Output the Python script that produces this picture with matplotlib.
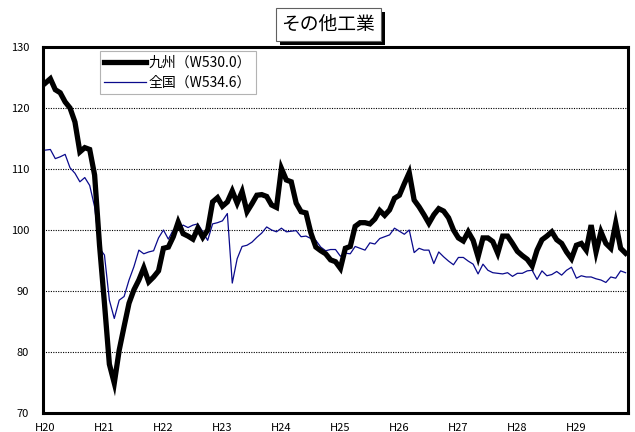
import matplotlib
matplotlib.use("Agg")
import matplotlib.pyplot as plt
from matplotlib.patches import Rectangle

plt.rcParams['font.family'] = ['Noto Sans CJK JP', 'DejaVu Sans']

# Monthly index, Jan 2008 (H20) - Nov 2017
year_labels = ["H20", "H21", "H22", "H23", "H24", "H25", "H26", "H27", "H28", "H29"]

kyushu = [
    124.1, 124.8, 123.0, 122.5, 121.0, 120.0, 117.7, 112.8, 113.5, 113.2,
    109.0, 97.5, 88.0, 78.0, 74.9, 80.3, 84.2, 88.0, 90.2, 91.8,
    93.8, 91.5, 92.3, 93.3, 97.0, 97.2, 98.9, 101.3, 99.4, 99.0,
    98.5, 100.3, 98.8, 100.0, 104.6, 105.3, 103.9, 104.6, 106.4, 104.4,
    106.3, 103.0, 104.3, 105.7, 105.8, 105.5, 104.1, 103.7, 110.1, 108.2,
    107.9, 104.4, 103.0, 102.8, 99.5, 97.2, 96.6, 96.1, 95.1, 94.8,
    93.7, 97.0, 97.3, 100.6, 101.2, 101.2, 101.0, 101.8, 103.2, 102.4,
    103.3, 105.2, 105.7, 107.6, 109.4, 104.9, 103.8, 102.5, 101.1, 102.5,
    103.5, 103.1, 102.0, 100.0, 98.7, 98.2, 99.7, 98.3, 95.6, 98.7,
    98.7, 98.1, 96.2, 99.0, 99.0, 97.8, 96.5, 95.8, 95.2, 94.1,
    96.7, 98.4, 99.0, 99.7, 98.4, 97.8, 96.4, 95.3, 97.5, 97.8,
    96.7, 100.8, 96.4, 99.7, 97.8, 97.0, 101.1, 97.0, 96.2,
]

zenkoku = [
    113.1, 113.2, 111.7, 112.0, 112.4, 110.2, 109.3, 107.9, 108.6, 107.3,
    103.8, 97.0, 95.9, 88.5, 85.5, 88.5, 89.1, 91.8, 94.0, 96.7,
    96.1, 96.4, 96.6, 98.7, 100.0, 98.5, 100.0, 100.1, 100.8, 100.4,
    100.8, 101.0, 99.7, 98.3, 101.0, 101.2, 101.5, 102.7, 91.3, 95.3,
    97.3, 97.5, 98.0, 98.8, 99.5, 100.5, 100.0, 99.7, 100.3, 99.7,
    99.8, 99.9, 98.9, 99.0, 98.6, 98.3, 97.2, 96.6, 96.8, 96.8,
    95.7, 96.2, 96.1, 97.3, 97.0, 96.7, 97.9, 97.7, 98.6, 98.9,
    99.2, 100.3, 99.8, 99.3, 100.0, 96.3, 97.0, 96.7, 96.7, 94.5,
    96.4, 95.6, 94.9, 94.3, 95.5, 95.5, 94.9, 94.4, 92.8, 94.4,
    93.4, 93.0, 92.9, 92.8, 93.0, 92.4, 92.9, 92.9, 93.3, 93.4,
    91.9, 93.3, 92.5, 92.7, 93.2, 92.6, 93.4, 93.9, 92.1, 92.5,
    92.3, 92.3, 92.0, 91.8, 91.4, 92.3, 92.1, 93.3, 93.0,
]

series_labels = ["九州（W530.0）", "全国（W534.6）"]
title = "その他工業"
y_ticks = [70, 80, 90, 100, 110, 120, 130]

fig = plt.figure(figsize=(6.35, 4.32), dpi=100)
ax = fig.add_axes([43 / 635, (432 - 413) / 432, 585 / 635, 366 / 432])

x = list(range(len(kyushu)))
ax.plot(x, zenkoku, color='#0a0a8c', lw=0.9, label=series_labels[1], zorder=3)
ax.plot(x, kyushu, color='black', lw=3.8, label=series_labels[0], zorder=4,
        solid_joinstyle='miter')

ax.set_xlim(-0.5, len(kyushu) - 0.5)
ax.set_ylim(70, 130)
ax.set_yticks(y_ticks)
ax.set_yticklabels([str(v) for v in y_ticks], fontsize=8)
ax.set_xticks([12 * k for k in range(len(year_labels))])
ax.set_xticklabels(year_labels, fontsize=8)
ax.tick_params(axis='both', length=0)
ax.tick_params(axis='y', pad=10)
ax.tick_params(axis='x', pad=7)

for v in [80, 90, 100, 110, 120]:
    ax.axhline(v, color='black', lw=0.8, ls=(0, (1, 1.2)), zorder=1)

for s in ax.spines.values():
    s.set_linewidth(2.2)
    s.set_color('black')

handles, labels = ax.get_legend_handles_labels()
leg = ax.legend(handles[::-1], labels[::-1], loc='upper left',
                bbox_to_anchor=(0.098, 0.988), fontsize=10, frameon=True,
                fancybox=False, edgecolor='#a0a0a0', handlelength=3.0,
                handletextpad=0.2, borderpad=0.3, labelspacing=0.45,
                borderaxespad=0)
leg.get_frame().set_linewidth(0.8)

# Title with drop shadow box
t = fig.text(0.517, 0.943, title, fontsize=13.5, ha='center', va='center', color='black',
             bbox=dict(boxstyle='square,pad=0.3', fc='white', ec='#606060', lw=0.8),
             zorder=5)
fig.canvas.draw()
bb = t.get_bbox_patch().get_window_extent()
W, H = fig.bbox.width, fig.bbox.height
shadow = Rectangle(((bb.x0 + 4) / W, (bb.y0 - 4) / H), bb.width / W, bb.height / H,
                   transform=fig.transFigure, facecolor='black', edgecolor='none',
                   zorder=4)
fig.add_artist(shadow)

fig.savefig('out.png', dpi=100)
